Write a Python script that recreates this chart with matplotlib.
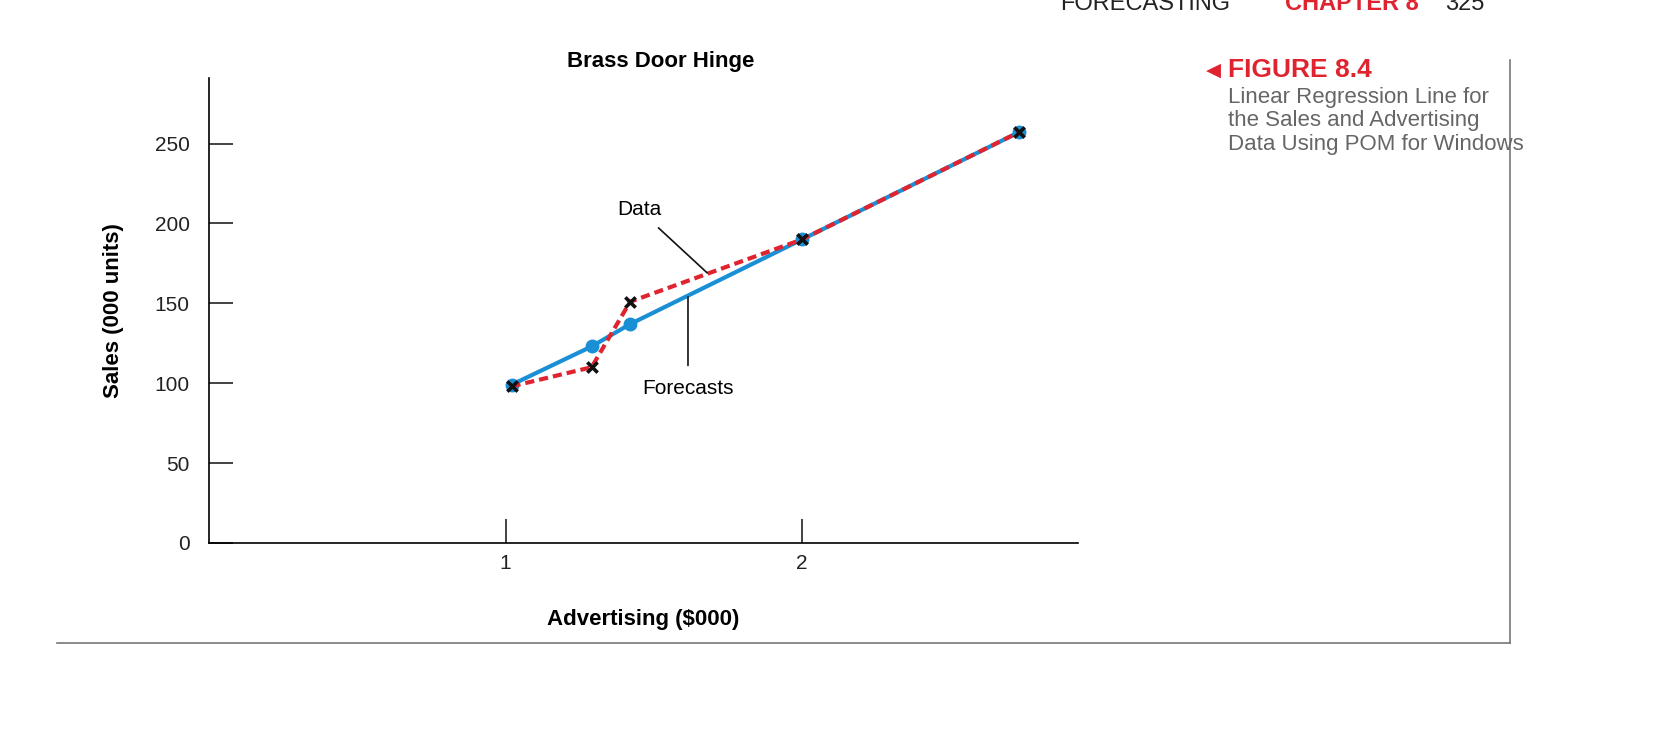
import matplotlib
matplotlib.use("Agg")
import matplotlib.pyplot as plt
from matplotlib.lines import Line2D

plt.rcParams['font.family'] = ['Liberation Sans Narrow', 'Liberation Sans', 'DejaVu Sans']

advertising = [1.02, 1.29, 1.42, 2.0, 2.73]
sales_data = [98, 110, 151, 190, 257]
forecasts = [99, 123, 137, 190, 257]
xticks = [1, 2]
yticks = [0, 50, 100, 150, 200, 250]

W, H = 1672, 748
fig = plt.figure(figsize=(W/100, H/100), dpi=100)
ax = fig.add_axes([209/W, 1-543/H, (1078-209)/W, (543-78)/H])
ax.set_xlim(0, 2.93)
ax.set_ylim(0, 291)
blue = '#1a8fd6'
red = '#e0242f'
ax.plot(advertising, forecasts, color=blue, lw=3, marker='o', ms=9, zorder=2)
ax.plot(advertising, sales_data, color=red, lw=3, ls=(0, (2.2, 1.2)), zorder=3)
ax.scatter(advertising, sales_data, marker='x', color='#111111', s=55, linewidths=2.6, zorder=4)

for s in ['top', 'right']:
    ax.spines[s].set_visible(False)
for s in ['left', 'bottom']:
    ax.spines[s].set_linewidth(1.2)
ax.set_xticks(xticks)
ax.set_yticks(yticks)
ax.tick_params(axis='both', direction='in', length=17, width=1.2, labelsize=15, colors='#222222')
ax.tick_params(axis='x', pad=8)
ax.tick_params(axis='y', pad=14)
ax.set_xlabel('Advertising ($000)', fontsize=16, fontweight='bold', labelpad=26)
ax.set_ylabel('Sales (000 units)', fontsize=16, fontweight='bold', labelpad=22)
ax.set_title('Brass Door Hinge', fontsize=16, fontweight='bold', pad=8, x=0.52)

# annotations
ax.annotate('Data', xy=(1.68, 169), xytext=(1.45, 205), fontsize=15, ha='center',
            arrowprops=dict(arrowstyle='-', color='#111111', lw=1.2, shrinkA=6, shrinkB=0))
ax.annotate('Forecasts', xy=(1.615, 154), xytext=(1.615, 93), fontsize=15, ha='center',
            arrowprops=dict(arrowstyle='-', color='#111111', lw=1.2, shrinkA=8, shrinkB=0))

# page frame
fig.add_artist(Line2D([57/W, 1510/W], [1-643/H, 1-643/H], color='#777777', lw=1.2))
fig.add_artist(Line2D([1510/W, 1510/W], [1-60/H, 1-643/H], color='#777777', lw=1.2))

fig.text(1213/W, 1-70/H, '\u25C0', color=red, fontsize=14, va='center', ha='center',
         family=['DejaVu Sans'])
fig.text(1228/W, 1-70/H, 'FIGURE 8.4', color=red, fontsize=19, fontweight='bold', va='center')
fig.text(1228/W, 1-87/H, 'Linear Regression Line for\nthe Sales and Advertising\nData Using POM for Windows',
         color='#666666', fontsize=16, va='top', linespacing=1.15)

# cut-off running header
fig.text(1060/W, 1-4/H, 'FORECASTING', color='#222222', fontsize=17, va='center')
fig.text(1285/W, 1-4/H, 'CHAPTER 8', color=red, fontsize=17, fontweight='bold', va='center')
fig.text(1445/W, 1-4/H, '325', color='#222222', fontsize=17, va='center')

fig.savefig('out.png', dpi=100)
